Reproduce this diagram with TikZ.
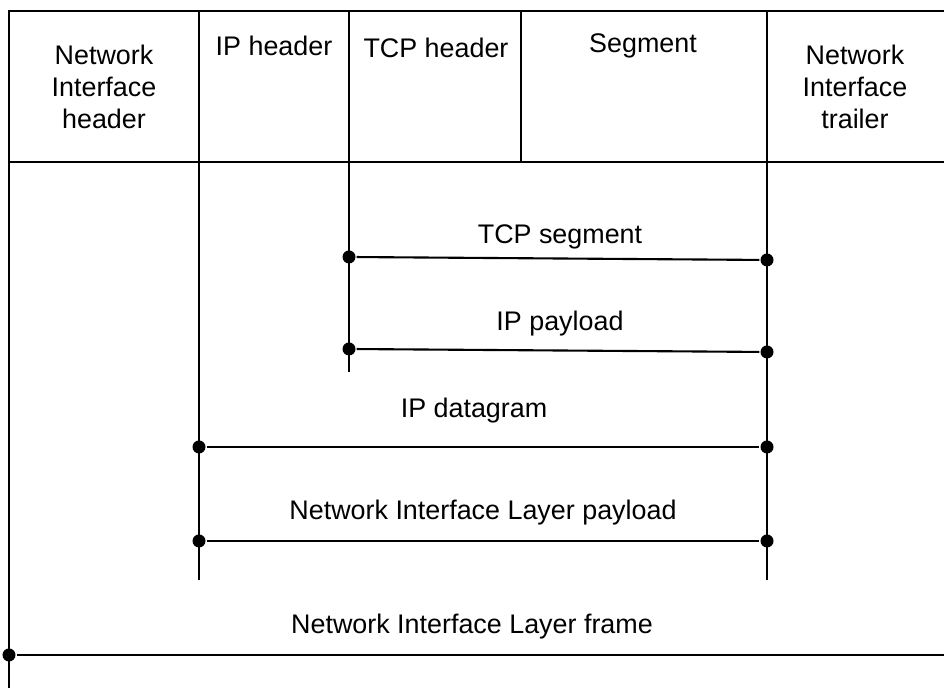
\documentclass[tikz,border=0pt]{standalone}
\usepackage{fontspec}
\setmainfont{Liberation Sans}
\usepackage{tikz}

\begin{document}
\begin{tikzpicture}[line width=0.6pt,
	lbl/.style={inner sep=0pt,align=center,font=\fontsize{7.65}{9.1}\selectfont},
	dot/.style={circle,fill=black,inner sep=0pt,minimum size=0.13cm}]
	\useasboundingbox (0,0) rectangle (9.44,6.88);

	% frame of the header row
	\coordinate (tl) at (0.09,6.77);
	\coordinate (tr) at (9.44,6.77);
	\coordinate (hl) at (0.09,5.26);
	\coordinate (hr) at (9.44,5.26);
	\coordinate (bl) at (0.09,0);
	\draw (bl) -- (tl) -- (tr);
	\draw (hl) -- (hr);

	% column borders
	\coordinate (ipT) at (1.99,6.77);
	\coordinate (ipB) at (1.99,1.08);
	\coordinate (tcpT) at (3.49,6.77);
	\coordinate (tcpB) at (3.49,3.16);
	\coordinate (segT) at (5.21,6.77);
	\coordinate (segB) at (5.21,5.26);
	\coordinate (trT) at (7.67,6.77);
	\coordinate (trB) at (7.67,1.08);
	\draw (ipT) -- (ipB);
	\draw (tcpT) -- (tcpB);
	\draw (segT) -- (segB);
	\draw (trT) -- (trB);

	% header labels
	\node[lbl] (nih) at (1.04,6.01) {Network\\Interface\\header};
	\node[lbl] (iph) at (2.74,6.42) {IP header};
	\node[lbl] (tcph) at (4.36,6.40) {TCP header};
	\node[lbl] (seg) at (6.43,6.42) {Segment};
	\node[lbl] (nit) at (8.55,6.01) {Network\\Interface\\trailer};

	% spans
	\node[dot] (tcpsL) at (3.49,4.31) {};
	\node[dot] (tcpsR) at (7.67,4.28) {};
	\draw (tcpsL) -- (tcpsR);
	\node[lbl] (tcps) at (5.60,4.51) {TCP segment};

	\node[dot] (ippL) at (3.49,3.39) {};
	\node[dot] (ippR) at (7.67,3.36) {};
	\draw (ippL) -- (ippR);
	\node[lbl] (ipp) at (5.60,3.64) {IP payload};

	\node[dot] (ipdL) at (1.99,2.41) {};
	\node[dot] (ipdR) at (7.67,2.41) {};
	\draw (ipdL) -- (ipdR);
	\node[lbl] (ipd) at (4.74,2.77) {IP datagram};

	\node[dot] (nilpL) at (1.99,1.47) {};
	\node[dot] (nilpR) at (7.67,1.47) {};
	\draw (nilpL) -- (nilpR);
	\node[lbl] (nilp) at (4.83,1.75) {Network Interface Layer payload};

	\node[dot] (nilfL) at (0.09,0.33) {};
	\coordinate (nilfR) at (9.44,0.33);
	\draw (nilfL) -- (nilfR);
	\node[lbl] (nilf) at (4.72,0.61) {Network Interface Layer frame};

\end{tikzpicture}
\end{document}
